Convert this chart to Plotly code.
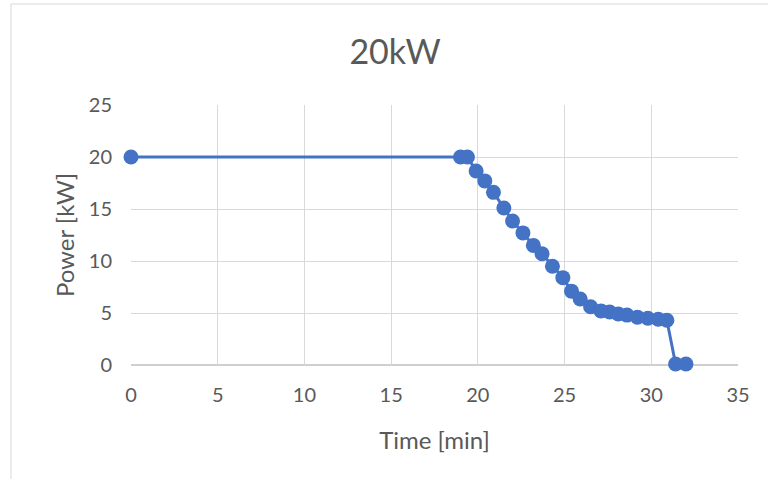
import plotly.graph_objects as go

# Charging power over time at 20 kW setting
time_min = [0.0, 19.0, 19.4, 19.9, 20.4, 20.9, 21.5, 22.0, 22.6, 23.2, 23.7,
            24.3, 24.9, 25.4, 25.9, 26.5, 27.1, 27.6, 28.1, 28.6, 29.2, 29.8,
            30.4, 30.9, 31.4, 32.0]
power_kw = [20.0, 20.0, 20.0, 18.65, 17.7, 16.6, 15.1, 13.85, 12.7, 11.5, 10.7,
            9.5, 8.4, 7.1, 6.35, 5.6, 5.2, 5.1, 4.9, 4.8, 4.6, 4.5,
            4.4, 4.3, 0.1, 0.1]

x_ticks = [0, 5, 10, 15, 20, 25, 30, 35]
y_ticks = [0, 5, 10, 15, 20, 25]

blue = "#4472C4"
grid = "#D9D9D9"
text_col = "#595959"
font_family = "Lato, 'Open Sans', sans-serif"

fig = go.Figure()
fig.add_trace(go.Scatter(
    x=time_min, y=power_kw,
    mode="lines+markers",
    line=dict(color=blue, width=3),
    marker=dict(color=blue, size=15),
    cliponaxis=False,
    showlegend=False,
))

fig.update_layout(
    width=768, height=479,
    margin=dict(l=131, r=30, t=105, b=114),
    paper_bgcolor="white",
    plot_bgcolor="white",
    font=dict(family=font_family, color=text_col),
    title=dict(text="20kW", x=395 / 768, xref="container", xanchor="center",
               y=1 - 52 / 479, yref="container", yanchor="middle",
               font=dict(size=34, color=text_col, family=font_family)),
    xaxis=dict(range=[0, 35], tickvals=x_ticks, showgrid=True, gridcolor=grid,
               gridwidth=1, zeroline=False, showline=False, ticks="",
               tickfont=dict(size=20, color=text_col), ticklabelstandoff=16,
               title=dict(text="Time [min]", font=dict(size=24, color=text_col),
                          standoff=27)),
    yaxis=dict(range=[0, 25], tickvals=y_ticks, showgrid=True, gridcolor=grid,
               gridwidth=1, zeroline=False, showline=False, ticks="",
               tickfont=dict(size=20, color=text_col), ticklabelstandoff=18,
               title=dict(text="Power [kW]", font=dict(size=24, color=text_col),
                          standoff=7)),
    shapes=[
        # axis baseline
        dict(type="line", xref="paper", yref="paper", x0=0, x1=1, y0=0, y1=0,
             line=dict(color="#BFBFBF", width=1.5), layer="below"),
        # chart frame
        dict(type="rect", xref="paper", yref="paper",
             x0=-120 / 607, x1=1.2, y0=-1, y1=361 / 260,
             line=dict(color=grid, width=1), layer="below"),
    ],
)

fig.write_html("out.html")
